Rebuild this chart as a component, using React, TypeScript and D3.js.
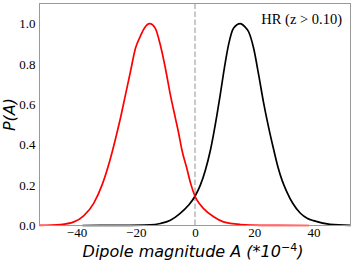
import React, { useEffect, useRef } from "react";
import * as d3 from "d3";

const redX = [-52.5, -45.4, -40.9, -37.6, -34.2, -31.4, -28.6, -26.5, -25.2, -23.5, -21.8, -20.1, -18.4, -17, -15.3, -13.4, -11.7, -10, -8.3, -6.6, -5.5, -4.4, -2.7, -1.4, 0, 1.4, 2.9, 6.3, 9.6, 15.3, 22, 38.5];
const redY = [0.001, 0.005, 0.018, 0.048, 0.11, 0.2, 0.33, 0.45, 0.53, 0.646, 0.762, 0.878, 0.94, 0.98, 1.0, 0.977, 0.894, 0.779, 0.646, 0.531, 0.456, 0.373, 0.28, 0.205, 0.145, 0.11, 0.084, 0.043, 0.018, 0.005, 0.001, 0];

const blackX = [-38, -25, -15.1, -11.7, -8.3, -5, -2.2, 0, 1.8, 3.5, 5.2, 7.4, 8.5, 9.9, 11.3, 13, 15.3, 16.8, 18.1, 19.8, 21.5, 23.1, 24.8, 26.5, 28, 29.5, 31, 33, 35.5, 38, 40, 45.6, 52.5];
const blackY = [0, 0.0005, 0.003, 0.01, 0.026, 0.06, 0.1, 0.145, 0.2, 0.274, 0.373, 0.547, 0.646, 0.779, 0.894, 0.977, 1.0, 0.985, 0.96, 0.878, 0.746, 0.613, 0.49, 0.38, 0.29, 0.22, 0.167, 0.11, 0.062, 0.035, 0.024, 0.006, 0.001];

const xTicks = [-40, -20, 0, 20, 40];
const yTicks = [0, 0.2, 0.4, 0.6, 0.8, 1.0];

const annotation = "HR (z > 0.10)";

function Chart() {
  const ref = useRef<SVGSVGElement>(null);

  useEffect(() => {
    const w = 354;
    const h = 266;
    const left = 39.5;
    const right = 350.5;
    const top = 3.5;
    const bottom = 225.5;

    const svg = d3.select(ref.current);
    svg.selectAll("*").remove();
    svg.attr("width", w).attr("height", h);

    const xScale = d3.scaleLinear().domain([-52.5, 52.5]).range([left, right]);
    const yScale = d3.scaleLinear().domain([0, 1.1]).range([bottom, top]);

    // dashed zero line
    svg
      .append("line")
      .attr("x1", xScale(0))
      .attr("x2", xScale(0))
      .attr("y1", top)
      .attr("y2", bottom)
      .attr("stroke", "#bbbbbb")
      .attr("stroke-width", 1.6)
      .attr("stroke-dasharray", "5.5,2.5");

    const line = d3
      .line<[number, number]>()
      .x((d) => xScale(d[0]))
      .y((d) => yScale(d[1]))
      .curve(d3.curveMonotoneX);

    const black = blackX.map((x, i) => [x, blackY[i]] as [number, number]);
    const red = redX.map((x, i) => [x, redY[i]] as [number, number]);

    svg
      .append("path")
      .attr("d", line(black))
      .attr("fill", "none")
      .attr("stroke", "black")
      .attr("stroke-width", 1.7);

    svg
      .append("path")
      .attr("d", line(red))
      .attr("fill", "none")
      .attr("stroke", "red")
      .attr("stroke-width", 1.7);

    // frame
    svg
      .append("rect")
      .attr("x", left)
      .attr("y", top)
      .attr("width", right - left)
      .attr("height", bottom - top)
      .attr("fill", "none")
      .attr("stroke", "#999999")
      .attr("stroke-width", 1);

    const minus = (v: number) => d3.format("d")(v).replace("-", "\u2212");

    const xAxis = d3
      .axisBottom(xScale)
      .tickValues(xTicks)
      .tickSize(0)
      .tickPadding(2.5)
      .tickFormat((d) => minus(d as number));

    svg
      .append("g")
      .attr("transform", "translate(0," + bottom + ")")
      .call(xAxis)
      .call((g) => g.select(".domain").remove())
      .selectAll("text")
      .attr("font-family", "'Liberation Serif', 'Times New Roman', serif")
      .attr("font-size", 13)
      .attr("fill", "black");

    const yAxis = d3
      .axisLeft(yScale)
      .tickValues(yTicks)
      .tickSize(0)
      .tickPadding(4)
      .tickFormat((d) => d3.format(".1f")(d as number));

    svg
      .append("g")
      .attr("transform", "translate(" + left + ",0)")
      .call(yAxis)
      .call((g) => g.select(".domain").remove())
      .selectAll("text")
      .attr("font-family", "'Liberation Serif', 'Times New Roman', serif")
      .attr("font-size", 13)
      .attr("fill", "black");

    // annotation
    svg
      .append("text")
      .attr("x", 342)
      .attr("y", 24)
      .attr("text-anchor", "end")
      .attr("font-family", "'Liberation Serif', 'Times New Roman', serif")
      .attr("font-size", 14.5)
      .text(annotation);

    // axis labels
    svg
      .append("text")
      .attr("transform", "translate(15," + yScale(0.55) + ") rotate(-90)")
      .attr("text-anchor", "middle")
      .attr("font-family", "'DejaVu Sans', sans-serif")
      .attr("font-style", "italic")
      .attr("font-size", 16)
      .text("P(A)");

    const xl = svg
      .append("text")
      .attr("x", 193)
      .attr("y", 257)
      .attr("text-anchor", "middle")
      .attr("font-family", "'DejaVu Sans', sans-serif")
      .attr("font-style", "italic")
      .attr("font-size", 16);
    xl.append("tspan").text("Dipole magnitude A (*10");
    xl.append("tspan").attr("dy", -6).attr("font-size", 11).attr("font-style", "normal").text("\u22124");
    xl.append("tspan").attr("dy", 6).text(")");
  }, []);

  return <svg ref={ref} style={{ position: "absolute", left: 0, top: 0 }} />;
}

export default function App() {
  return <Chart />;
}
